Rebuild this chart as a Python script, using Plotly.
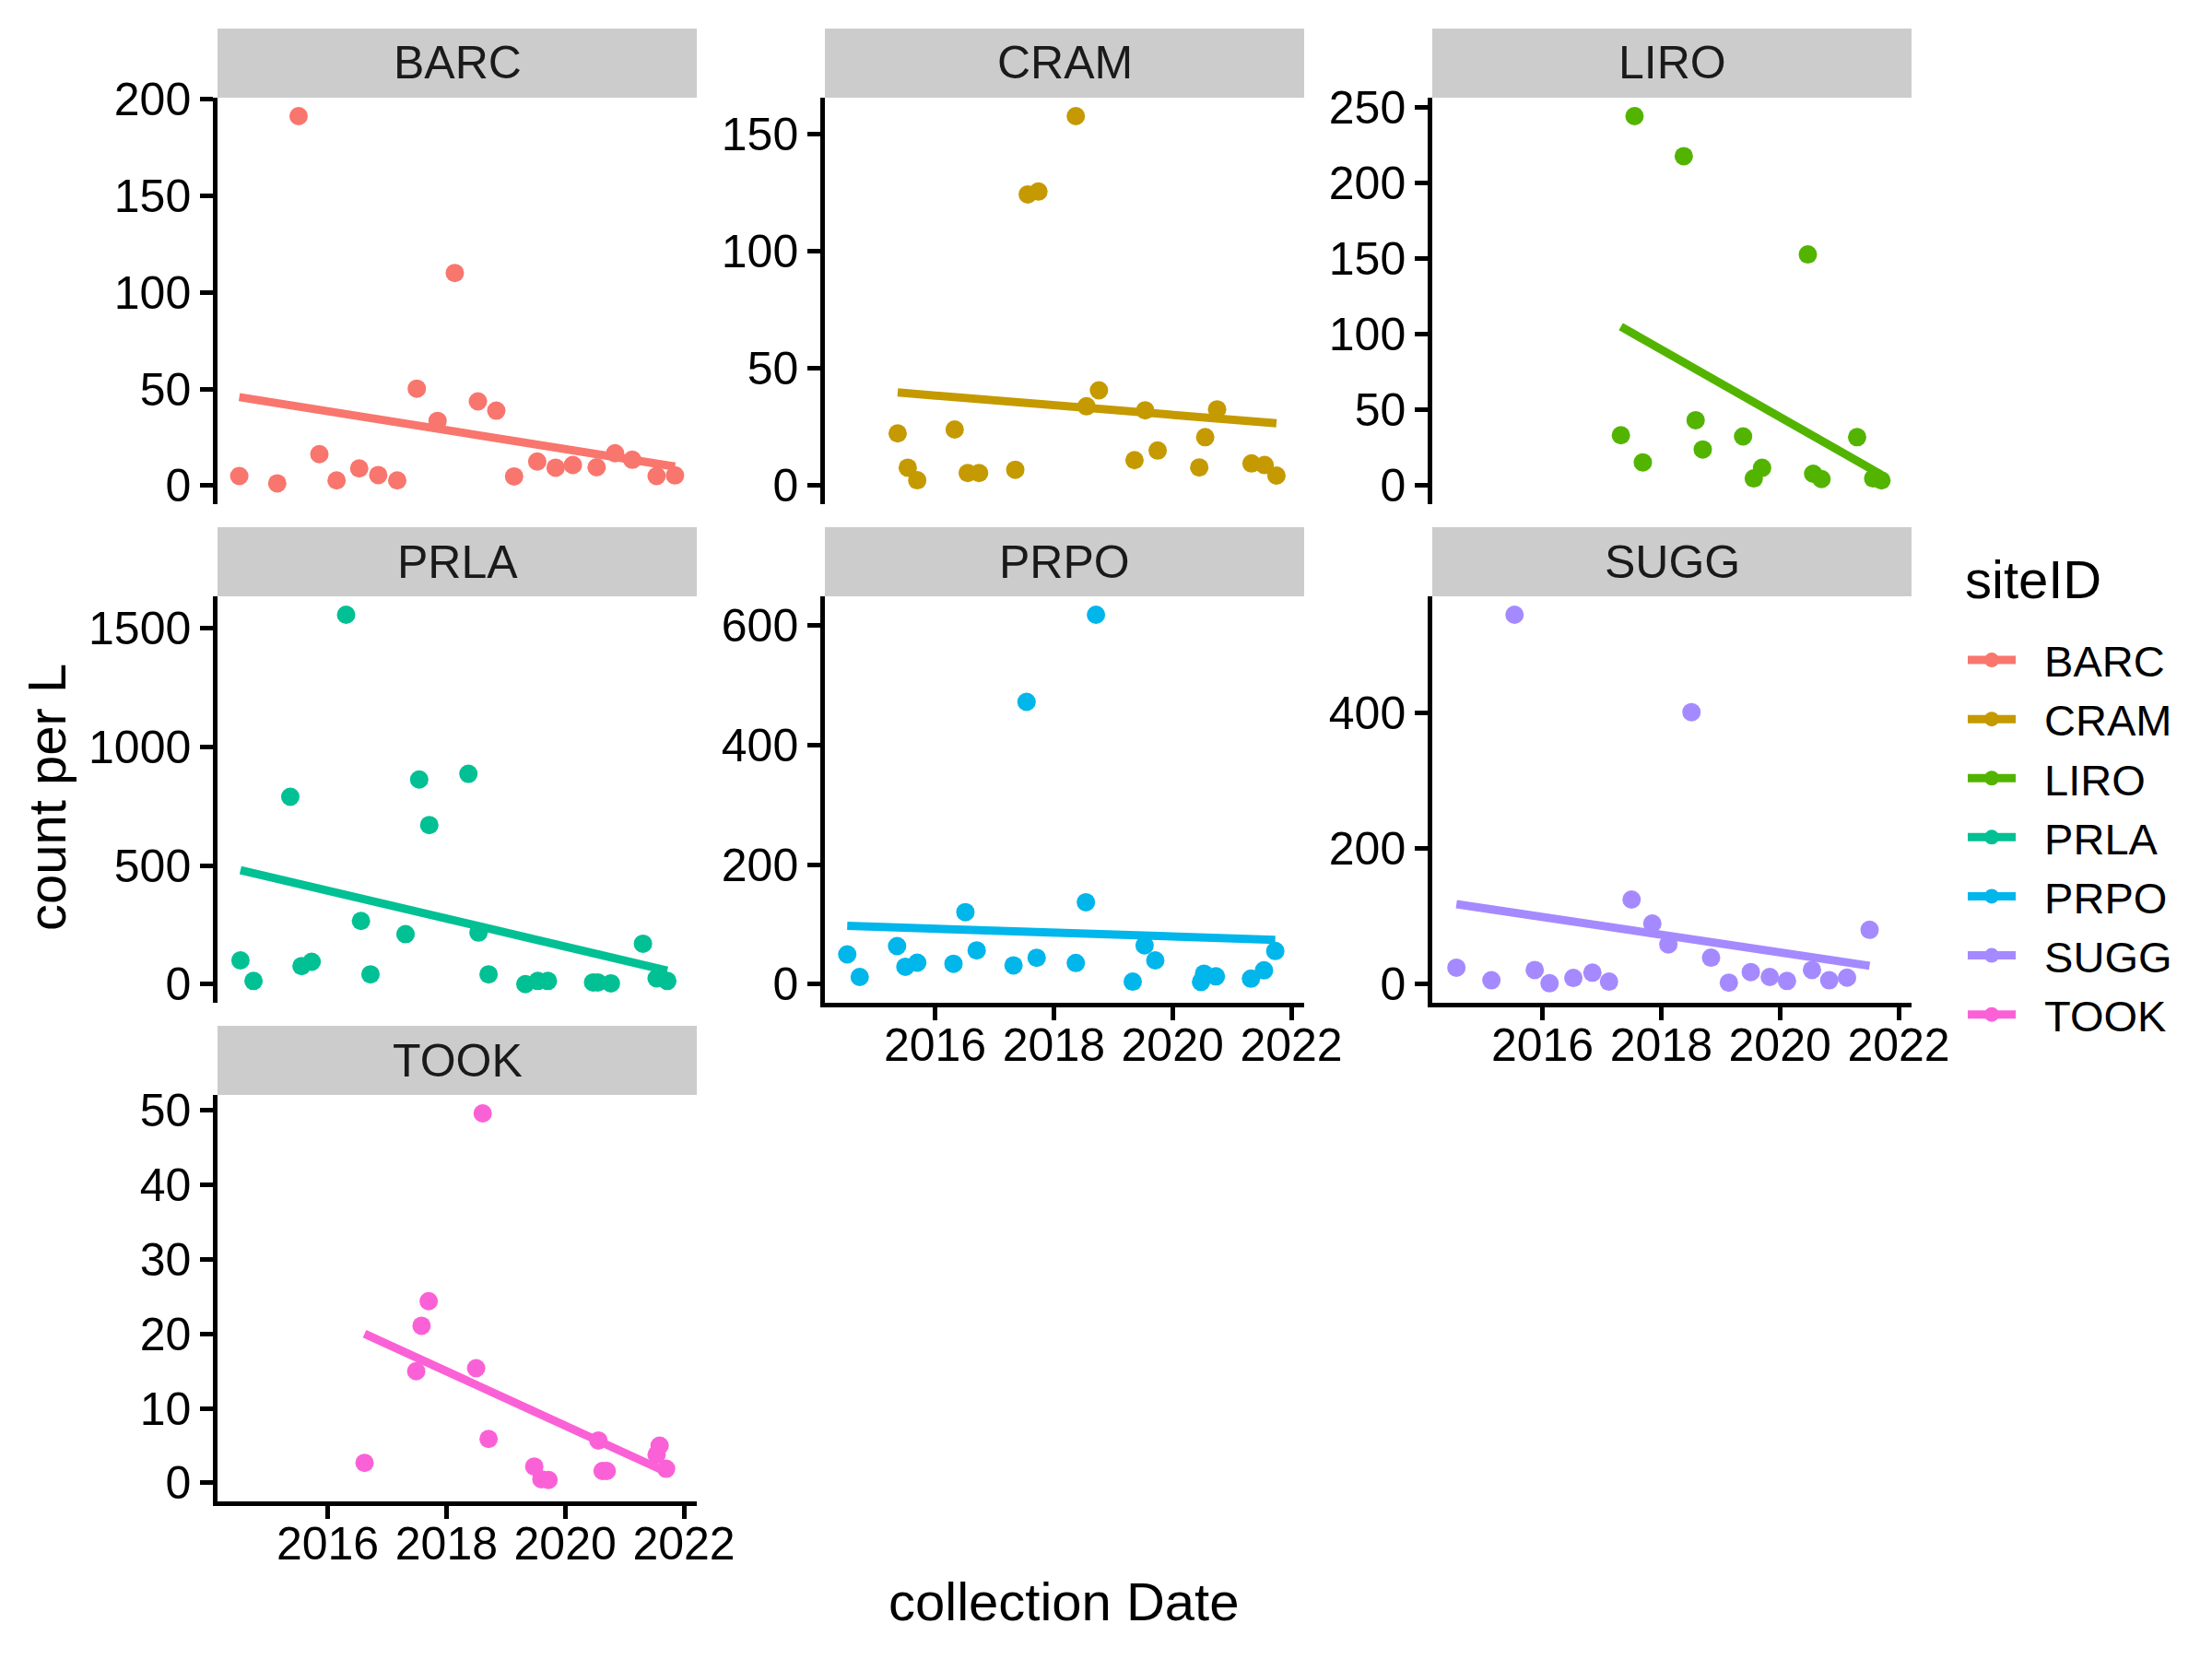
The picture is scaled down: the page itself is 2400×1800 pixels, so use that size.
import numpy as np
import pandas as pd
import plotly.graph_objects as go

sites = ["BARC", "CRAM", "LIRO", "PRLA", "PRPO", "SUGG", "TOOK"]
colors = ["#F8766D", "#C49A00", "#53B400", "#00C094", "#00B6EB", "#A58AFF", "#FB61D7"]

barc_year = [2014.51, 2015.15, 2015.51, 2015.86, 2016.15, 2016.53, 2016.85, 2017.17, 2017.50, 2017.85, 2018.14,
             2018.53, 2018.84, 2019.14, 2019.53, 2019.84, 2020.13, 2020.53, 2020.84, 2021.13, 2021.54, 2021.85]
barc_count = [5.0, 1.2, 191.1, 16.3, 2.7, 8.9, 5.5, 2.7, 50.2, 33.5, 110.0,
              43.6, 38.8, 4.8, 12.5, 9.3, 10.7, 9.5, 16.8, 13.4, 5.0, 5.3]

cram_year = [2015.37, 2015.54, 2015.70, 2016.33, 2016.55, 2016.74, 2017.35, 2017.56, 2017.74, 2018.37, 2018.55,
             2018.76, 2019.36, 2019.54, 2019.75, 2020.45, 2020.55, 2020.75, 2021.33, 2021.55, 2021.75]
cram_count = [22.3, 7.7, 2.3, 24.0, 5.4, 5.4, 6.8, 124.4, 125.6, 157.8, 33.9,
              40.7, 10.9, 32.2, 15.0, 7.8, 20.7, 32.6, 9.5, 8.8, 4.3]

liro_year = [2017.32, 2017.55, 2017.69, 2018.38, 2018.58, 2018.70, 2019.38, 2019.56, 2019.70, 2020.47, 2020.56,
             2020.70, 2021.30, 2021.57, 2021.71]
liro_count = [33.3, 243.9, 15.4, 217.5, 43.2, 23.9, 32.5, 4.8, 11.8, 152.6, 7.9,
              4.4, 32.0, 4.8, 3.5]

prla_year = [2014.53, 2014.75, 2015.37, 2015.56, 2015.73, 2016.31, 2016.56, 2016.72, 2017.31, 2017.54, 2017.71,
             2018.37, 2018.54, 2018.71, 2019.33, 2019.54, 2019.71, 2020.47, 2020.55, 2020.77, 2021.31, 2021.54, 2021.72]
prla_count = [101, 14, 790, 77, 95, 1557, 267, 42, 211, 863, 671,
              887, 218, 42, 1, 14, 14, 8, 8, 4, 171, 25, 14]

prpo_year = [2014.52, 2014.73, 2015.36, 2015.50, 2015.70, 2016.31, 2016.51, 2016.70, 2017.32, 2017.54, 2017.71,
             2018.37, 2018.54, 2018.71, 2019.33, 2019.53, 2019.71, 2020.48, 2020.53, 2020.73, 2021.32, 2021.54, 2021.73]
prpo_count = [50, 12.2, 63.9, 29.4, 36.1, 34.4, 120.6, 56.7, 31.7, 472.2, 44.4,
              35.6, 137.2, 617.8, 4.4, 65.0, 40.0, 3.9, 17.8, 13.3, 9.4, 23.3, 55.6]

sugg_year = [2014.55, 2015.14, 2015.53, 2015.87, 2016.12, 2016.52, 2016.84, 2017.12, 2017.50, 2017.85, 2018.12,
             2018.51, 2018.84, 2019.14, 2019.51, 2019.83, 2020.12, 2020.54, 2020.83, 2021.13, 2021.51]
sugg_count = [24.5, 5.9, 544.4, 21.1, 1.5, 9.3, 17.1, 3.9, 124.8, 89.6, 58.8,
              401.0, 39.2, 2.4, 18.1, 10.8, 4.9, 21.1, 5.9, 9.8, 80.3]

took_year = [2016.62, 2017.49, 2017.58, 2017.70, 2018.50, 2018.61, 2018.71, 2019.48, 2019.60, 2019.72, 2020.56,
             2020.63, 2020.70, 2021.54, 2021.59, 2021.70]
took_count = [2.7, 15.0, 21.1, 24.4, 15.4, 49.6, 5.9, 2.2, 0.5, 0.4, 5.7,
              1.6, 1.6, 3.8, 5.0, 1.9]

years = [barc_year, cram_year, liro_year, prla_year, prpo_year, sugg_year, took_year]
counts = [barc_count, cram_count, liro_count, prla_count, prpo_count, sugg_count, took_count]
ytick_vals = [[0, 50, 100, 150, 200], [0, 50, 100, 150], [0, 50, 100, 150, 200, 250],
              [0, 500, 1000, 1500], [0, 200, 400, 600], [0, 200, 400], [0, 10, 20, 30, 40, 50]]
xtick_years = [2016, 2018, 2020, 2022]


def to_date(y):
    yr = int(np.floor(y))
    start = pd.Timestamp(year=yr, month=1, day=1)
    end = pd.Timestamp(year=yr + 1, month=1, day=1)
    return start + (end - start) * (y - yr)


W, H = 2400, 1800
FONT = "Liberation Sans"
TICK_FS = 50
TITLE_FS = 58
LEG_FS = 47

all_years = np.concatenate([np.array(y) for y in years])
xmin, xmax = all_years.min(), all_years.max()
xr = xmax - xmin
xrange = [to_date(xmin - 0.05 * xr), to_date(xmax + 0.05 * xr)]

fig = go.Figure()
shapes = []
annotations = []

col_x0 = [236, 895, 1554]
pw = 520
row_top = [106, 647, 1188]
ph = 441
strip_h = 75

for i, site in enumerate(sites):
    r, c = divmod(i, 3)
    ax = "" if i == 0 else str(i + 1)
    x0 = col_x0[c]
    x1 = x0 + pw
    top = row_top[r]
    bot = top + ph
    xs = np.array(years[i])
    ys = np.array(counts[i])
    dates = [to_date(v) for v in xs]

    slope, intercept = np.polyfit(xs, ys, 1)
    lx = np.array([xs.min(), xs.max()])
    ly = intercept + slope * lx

    fig.add_trace(go.Scatter(x=dates, y=ys, mode="markers", xaxis="x" + ax, yaxis="y" + ax,
                             marker=dict(color=colors[i], size=20, line=dict(width=0)),
                             showlegend=False, hoverinfo="skip", cliponaxis=False))
    fig.add_trace(go.Scatter(x=[to_date(v) for v in lx], y=ly, mode="lines", xaxis="x" + ax, yaxis="y" + ax,
                             line=dict(color=colors[i], width=9), showlegend=False, hoverinfo="skip"))

    lo = min(0.0, ys.min(), ly.min())
    hi = max(ys.max(), ly.max())
    yr_ = hi - lo
    yrange = [lo - 0.05 * yr_, hi + 0.05 * yr_]

    show_x = i in (4, 5, 6)
    fig.layout["xaxis" + ax] = dict(
        domain=[x0 / W, x1 / W], anchor="y" + ax, type="date", range=xrange,
        showgrid=False, zeroline=False, automargin=False,
        showline=show_x, linecolor="black", linewidth=4.5,
        ticks="outside" if show_x else "", ticklen=14, tickwidth=4.5, tickcolor="black",
        showticklabels=show_x,
        tickvals=[pd.Timestamp(year=y, month=1, day=1) for y in xtick_years],
        ticktext=[str(y) for y in xtick_years],
        tickfont=dict(family=FONT, size=TICK_FS, color="black"),
        ticklabelstandoff=-16,
    )
    fig.layout["yaxis" + ax] = dict(
        domain=[1 - bot / H, 1 - top / H], anchor="x" + ax, range=yrange,
        showgrid=False, zeroline=False, automargin=False,
        showline=True, linecolor="black", linewidth=4.5,
        ticks="outside", ticklen=14, tickwidth=4.5, tickcolor="black",
        tickvals=ytick_vals[i], ticktext=[str(v) for v in ytick_vals[i]],
        tickfont=dict(family=FONT, size=TICK_FS, color="black"),
        ticklabelstandoff=0,
    )
    shapes.append(dict(type="rect", xref="paper", yref="paper",
                       x0=x0 / W, x1=x1 / W, y0=1 - top / H, y1=1 - (top - strip_h) / H,
                       fillcolor="#CCCCCC", line=dict(width=0), layer="below"))
    annotations.append(dict(text=site, xref="paper", yref="paper",
                            x=(x0 + x1) / 2 / W, y=1 - (top - strip_h / 2) / H,
                            xanchor="center", yanchor="middle", showarrow=False,
                            font=dict(family=FONT, size=TICK_FS, color="#1A1A1A")))

# legend entries
for i, site in enumerate(sites):
    fig.add_trace(go.Scatter(x=[None], y=[None], mode="lines+markers", name="\u00a0\u00a0" + site,
                             line=dict(color=colors[i], width=9),
                             marker=dict(color=colors[i], size=19),
                             xaxis="x", yaxis="y", hoverinfo="skip"))

annotations.append(dict(text="siteID", xref="paper", yref="paper", x=2130 / W, y=1 - 628 / H,
                        showarrow=False, xanchor="left", yanchor="middle",
                        font=dict(family=FONT, size=TITLE_FS, color="black")))
annotations.append(dict(text="count per L", xref="paper", yref="paper", x=50 / W, y=1 - 865 / H,
                        textangle=-90, showarrow=False, xanchor="center", yanchor="middle",
                        font=dict(family=FONT, size=TITLE_FS, color="black")))
annotations.append(dict(text="collection Date", xref="paper", yref="paper", x=1154 / W, y=1 - 1737 / H,
                        showarrow=False, xanchor="center", yanchor="middle",
                        font=dict(family=FONT, size=TITLE_FS, color="black")))

fig.update_layout(
    width=W, height=H, margin=dict(l=0, r=0, t=0, b=0, autoexpand=False),
    paper_bgcolor="white", plot_bgcolor="white",
    shapes=shapes, annotations=annotations,
    showlegend=True,
    legend=dict(x=2130 / W, y=1 - 679 / H, xanchor="left", yanchor="top",
                font=dict(family=FONT, size=LEG_FS, color="black"),
                itemwidth=52, tracegroupgap=0, bgcolor="rgba(0,0,0,0)"),
)

fig.write_html("out.html")
